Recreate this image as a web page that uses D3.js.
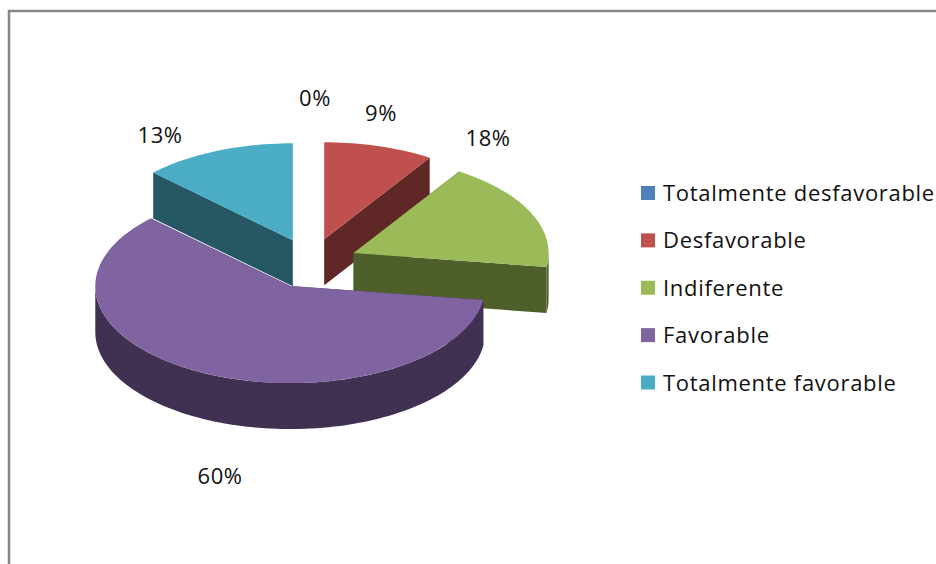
<!DOCTYPE html>
<html>
<head>
  <title>Pie 3D</title>
  <style>
    body { margin: 0; padding: 0; background: #fff; overflow: hidden; }
    svg { display: block; }
    text { font-family: "Open Sans", sans-serif; font-size: 22px; fill: #111; }
  </style>
</head>
<body>
  <div id="chart"></div>
  <script src="https://d3js.org/d3.v7.min.js"></script>
  <script>
    const categories = ['Totalmente desfavorable', 'Desfavorable', 'Indiferente', 'Favorable', 'Totalmente favorable'];
    const values = [0, 9.1, 18.2, 60, 12.7];
    const valueLabels = ['0%', '9%', '18%', '60%', '13%'];

    const colors = ['#4F81BD', '#C0504D', '#9BBB59', '#8064A2', '#4BACC6'];
    const darkColors = ['#2A4563', '#5F2726', '#4F5F2C', '#403152', '#255764'];

    // pie geometry
    const cx = 311, cy = 263.5, rx = 195, ry = 97, depth = 46, explodeX = 0.24, explodeY = 0.26;
    // label centres relative to the pie centre
    const labelOffsets = [[4, -166], [70, -151], [177, -126], [-91, 212], [-151, -129]];

    const svg = d3.select('#chart').append('svg').attr('width', 936).attr('height', 564);

    // frame, runs off the right and bottom of the picture
    svg.append('path')
      .attr('d', 'M9,564V11H936')
      .attr('fill', 'none')
      .attr('stroke', '#868686')
      .attr('stroke-width', 2.5);

    const arcs = d3.pie().sort(null).value((d, i) => values[i])(categories);

    // angle 0 at the top, clockwise, flattened to an ellipse
    const pt = (a, ox, oy, drop = 0) => [ox + rx * Math.sin(a), oy - ry * Math.cos(a) + drop];
    const line = d3.line();

    function sampleAngles(a0, a1) {
      const n = Math.max(2, Math.ceil((a1 - a0) / 0.03));
      return d3.range(n + 1).map(i => a0 + (a1 - a0) * i / n);
    }

    // back to front
    const drawOrder = [1, 4, 2, 3];
    drawOrder.forEach(i => {
      const d = arcs[i];
      const mid = (d.startAngle + d.endAngle) / 2;
      const ox = cx + explodeX * rx * Math.sin(mid);
      const oy = cy - explodeY * ry * Math.cos(mid);
      const g = svg.append('g');

      // cut faces
      [d.startAngle, d.endAngle].forEach(a => {
        const p = pt(a, ox, oy);
        g.append('path')
          .attr('d', line([[ox, oy], p, [p[0], p[1] + depth], [ox, oy + depth]]) + 'Z')
          .attr('fill', darkColors[i]);
      });

      // outer wall, only the front half shows
      const w0 = Math.max(d.startAngle, Math.PI / 2);
      const w1 = Math.min(d.endAngle, Math.PI * 1.5);
      if (w1 > w0) {
        const angles = sampleAngles(w0, w1);
        const top = angles.map(a => pt(a, ox, oy));
        const bottom = angles.map(a => pt(a, ox, oy, depth)).reverse();
        g.append('path').attr('d', line(top.concat(bottom)) + 'Z').attr('fill', darkColors[i]);
      }

      // top surface
      const rim = sampleAngles(d.startAngle, d.endAngle).map(a => pt(a, ox, oy));
      g.append('path').attr('d', line([[ox, oy]].concat(rim)) + 'Z').attr('fill', colors[i]);
    });

    // value labels
    svg.selectAll('text.value')
      .data(valueLabels)
      .enter().append('text')
      .attr('class', 'value')
      .attr('x', (d, i) => cx + labelOffsets[i][0])
      .attr('y', (d, i) => cy + labelOffsets[i][1] + 8)
      .attr('text-anchor', 'middle')
      .style('letter-spacing', '0.5px')
      .text(d => d);

    // legend
    const legendY = d3.scalePoint().domain(categories).range([193, 382.5]);
    const legend = svg.selectAll('g.legend')
      .data(categories)
      .enter().append('g')
      .attr('class', 'legend')
      .attr('transform', d => `translate(641,${legendY(d)})`);

    legend.append('rect')
      .attr('y', -7)
      .attr('width', 14)
      .attr('height', 14)
      .attr('fill', (d, i) => colors[i]);

    legend.append('text')
      .attr('x', 22)
      .attr('y', 8)
      .style('letter-spacing', '0.7px')
      .text(d => d);
  </script>
</body>
</html>
